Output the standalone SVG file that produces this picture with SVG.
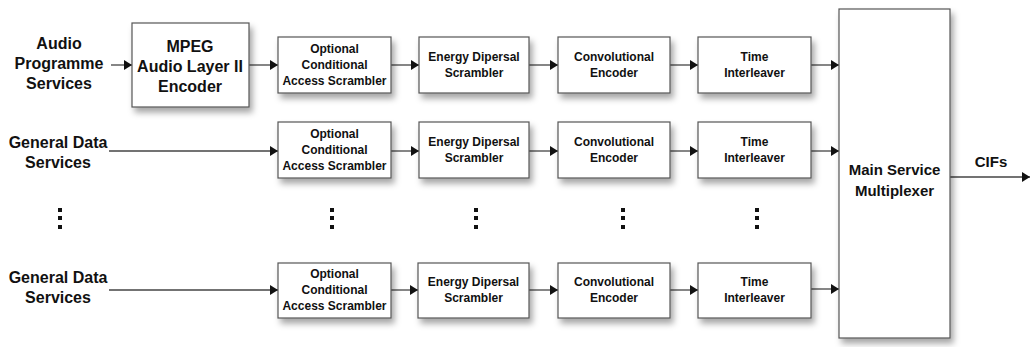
<svg xmlns="http://www.w3.org/2000/svg" width="1030" height="347" viewBox="0 0 1030 347">
<defs>
<filter id="sh" x="-20%" y="-20%" width="150%" height="160%">
<feDropShadow dx="3" dy="5" stdDeviation="3" flood-color="#000" flood-opacity="0.35"/>
</filter>
<marker id="ah" viewBox="0 0 8 10" refX="8" refY="5" markerWidth="8" markerHeight="10" markerUnits="userSpaceOnUse" orient="auto">
<path d="M0,0 L8,5 L0,10 Z" fill="#111"/>
</marker>
<style>
.box{fill:#fff;stroke:#555;stroke-width:1.2;filter:url(#sh)}
.t{font-family:"Liberation Sans",Arial,sans-serif;font-weight:bold;fill:#111;text-anchor:middle}
.s{font-size:12px}
.m{font-size:16px}
.l{font-size:16px}
.c{stroke:#444;stroke-width:1.3;fill:none;marker-end:url(#ah)}
.d{fill:#111}
</style>
</defs>
<rect width="1030" height="347" fill="#fff"/>

<g id="labels">
<text class="t l" x="59" y="49">Audio</text>
<text class="t l" x="59" y="69">Programme</text>
<text class="t l" x="59" y="89">Services</text>
<text class="t l" x="58" y="148">General Data</text>
<text class="t l" x="58" y="168">Services</text>
<text class="t l" x="58" y="283">General Data</text>
<text class="t l" x="58" y="303">Services</text>
</g>

<g id="connectors">
<line class="c" x1="111" y1="65" x2="132" y2="65"/>
<line class="c" x1="249" y1="65" x2="278" y2="65"/>
<line class="c" x1="391" y1="65" x2="419" y2="65"/>
<line class="c" x1="529" y1="65" x2="558" y2="65"/>
<line class="c" x1="670" y1="65" x2="698" y2="65"/>
<line class="c" x1="811" y1="65" x2="839" y2="65"/>
<line class="c" x1="109" y1="151" x2="278" y2="151"/>
<line class="c" x1="391" y1="151" x2="419" y2="151"/>
<line class="c" x1="529" y1="151" x2="558" y2="151"/>
<line class="c" x1="670" y1="151" x2="698" y2="151"/>
<line class="c" x1="811" y1="151" x2="839" y2="151"/>
<line class="c" x1="109" y1="290" x2="278" y2="290"/>
<line class="c" x1="391" y1="290" x2="418" y2="290"/>
<line class="c" x1="529" y1="290" x2="558" y2="290"/>
<line class="c" x1="670" y1="290" x2="698" y2="290"/>
<line class="c" x1="811" y1="289" x2="839" y2="289"/>
<line class="c" x1="950" y1="177" x2="1030" y2="177"/>
</g>

<g id="mpeg">
<rect class="box" x="132" y="23" width="117" height="84"/>
<text class="t m" x="190" y="52">MPEG</text>
<text class="t m" x="190" y="72">Audio Layer II</text>
<text class="t m" x="190" y="92">Encoder</text>
</g>

<g id="ocas1">
<rect class="box" x="278" y="37" width="113" height="56"/>
<text class="t s" x="334.5" y="53">Optional</text>
<text class="t s" x="334.5" y="69">Conditional</text>
<text class="t s" x="334.5" y="85">Access Scrambler</text>
</g>
<g id="eds1">
<rect class="box" x="419" y="37" width="110" height="56"/>
<text class="t s" x="474" y="61">Energy Dipersal</text>
<text class="t s" x="474" y="77">Scrambler</text>
</g>
<g id="conv1">
<rect class="box" x="558" y="37" width="112" height="56"/>
<text class="t s" x="614" y="61">Convolutional</text>
<text class="t s" x="614" y="77">Encoder</text>
</g>
<g id="time1">
<rect class="box" x="698" y="37" width="113" height="56"/>
<text class="t s" x="754.5" y="61">Time</text>
<text class="t s" x="754.5" y="77">Interleaver</text>
</g>

<g id="ocas2">
<rect class="box" x="278" y="122" width="113" height="56"/>
<text class="t s" x="334.5" y="138">Optional</text>
<text class="t s" x="334.5" y="154">Conditional</text>
<text class="t s" x="334.5" y="170">Access Scrambler</text>
</g>
<g id="eds2">
<rect class="box" x="419" y="122" width="110" height="56"/>
<text class="t s" x="474" y="146">Energy Dipersal</text>
<text class="t s" x="474" y="162">Scrambler</text>
</g>
<g id="conv2">
<rect class="box" x="558" y="122" width="112" height="56"/>
<text class="t s" x="614" y="146">Convolutional</text>
<text class="t s" x="614" y="162">Encoder</text>
</g>
<g id="time2">
<rect class="box" x="698" y="122" width="113" height="56"/>
<text class="t s" x="754.5" y="146">Time</text>
<text class="t s" x="754.5" y="162">Interleaver</text>
</g>

<g id="ocas3">
<rect class="box" x="278" y="263" width="113" height="55"/>
<text class="t s" x="334.5" y="278">Optional</text>
<text class="t s" x="334.5" y="294">Conditional</text>
<text class="t s" x="334.5" y="310">Access Scrambler</text>
</g>
<g id="eds3">
<rect class="box" x="418" y="263" width="111" height="55"/>
<text class="t s" x="473.5" y="286">Energy Dipersal</text>
<text class="t s" x="473.5" y="302">Scrambler</text>
</g>
<g id="conv3">
<rect class="box" x="558" y="263" width="112" height="55"/>
<text class="t s" x="614" y="286">Convolutional</text>
<text class="t s" x="614" y="302">Encoder</text>
</g>
<g id="time3">
<rect class="box" x="698" y="263" width="113" height="55"/>
<text class="t s" x="754.5" y="286">Time</text>
<text class="t s" x="754.5" y="302">Interleaver</text>
</g>

<g id="mux">
<rect class="box" x="839" y="9" width="111" height="329"/>
<text class="t" style="font-size:15px" x="894.5" y="175">Main Service</text>
<text class="t" style="font-size:15px" x="894.5" y="196">Multiplexer</text>
</g>

<g id="cifs">
<text class="t" style="font-size:15px" x="991" y="167">CIFs</text>
</g>

<g id="ellipsis">
<rect class="d" x="58" y="208" width="4" height="4"/>
<rect class="d" x="58" y="216" width="4" height="4"/>
<rect class="d" x="58" y="225" width="4" height="4"/>
<rect class="d" x="330" y="208" width="4" height="4"/>
<rect class="d" x="330" y="216" width="4" height="4"/>
<rect class="d" x="330" y="225" width="4" height="4"/>
<rect class="d" x="474" y="208" width="4" height="4"/>
<rect class="d" x="474" y="216" width="4" height="4"/>
<rect class="d" x="474" y="225" width="4" height="4"/>
<rect class="d" x="621" y="208" width="4" height="4"/>
<rect class="d" x="621" y="216" width="4" height="4"/>
<rect class="d" x="621" y="225" width="4" height="4"/>
<rect class="d" x="755" y="208" width="4" height="4"/>
<rect class="d" x="755" y="216" width="4" height="4"/>
<rect class="d" x="755" y="225" width="4" height="4"/>
</g>
</svg>
